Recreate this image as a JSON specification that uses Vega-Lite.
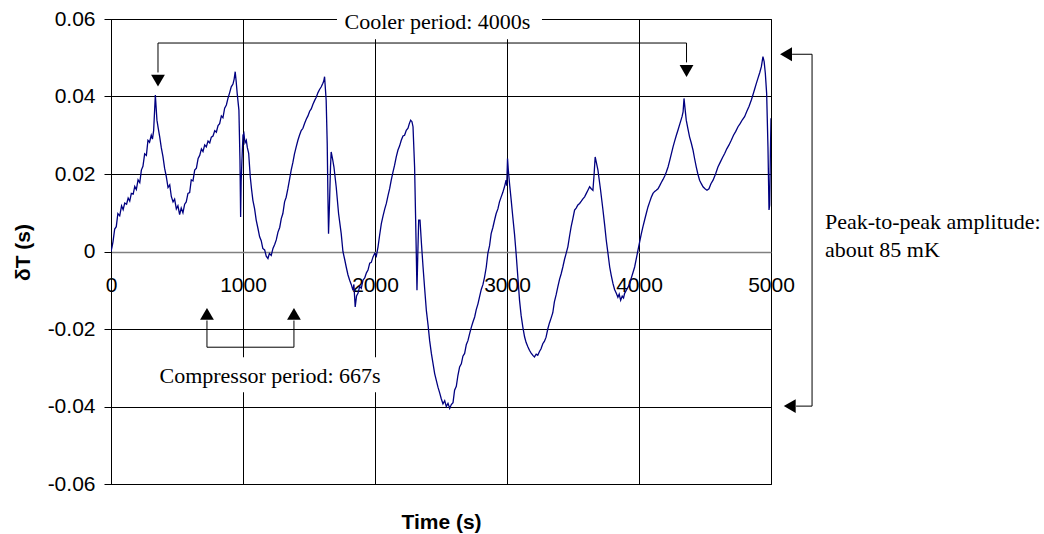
{
  "$schema": "https://vega.github.io/schema/vega-lite/v6.json",
  "width": 660,
  "height": 465,
  "autosize": "none",
  "padding": {"left": 111, "top": 19, "right": 273, "bottom": 50},
  "background": "white",
  "config": {
    "view": {"stroke": "black", "strokeWidth": 1},
    "axis": {"labelFont": "Liberation Sans", "titleFont": "Liberation Sans", "labelColor": "black", "titleColor": "black"}
  },
  "datasets": {
    "curve": [
      {"t":0,"v":0.0},{"t":8,"v":0.0012},{"t":15,"v":0.0025},{"t":28,"v":0.0058},{"t":40,"v":0.0064},{"t":52,"v":0.0098},{"t":66,"v":0.0092},{"t":80,"v":0.0118},{"t":92,"v":0.0108},{"t":104,"v":0.0125},{"t":118,"v":0.0122},{"t":130,"v":0.0138},{"t":142,"v":0.013},{"t":154,"v":0.015},{"t":168,"v":0.0148},{"t":180,"v":0.0168},{"t":192,"v":0.016},{"t":205,"v":0.0185},{"t":218,"v":0.0178},{"t":230,"v":0.021},{"t":242,"v":0.022},{"t":255,"v":0.0252},{"t":268,"v":0.0248},{"t":280,"v":0.0287},{"t":292,"v":0.0282},{"t":305,"v":0.03},{"t":314,"v":0.029},{"t":323,"v":0.0312},{"t":336,"v":0.0404},{"t":348,"v":0.0339},{"t":358,"v":0.0318},{"t":369,"v":0.0296},{"t":381,"v":0.0268},{"t":394,"v":0.0244},{"t":406,"v":0.0215},{"t":419,"v":0.0193},{"t":432,"v":0.0165},{"t":445,"v":0.0172},{"t":457,"v":0.0142},{"t":470,"v":0.0128},{"t":482,"v":0.0135},{"t":495,"v":0.011},{"t":507,"v":0.0118},{"t":520,"v":0.0095},{"t":532,"v":0.0112},{"t":545,"v":0.01},{"t":558,"v":0.0122},{"t":570,"v":0.0128},{"t":583,"v":0.015},{"t":596,"v":0.0152},{"t":608,"v":0.0185},{"t":621,"v":0.0182},{"t":634,"v":0.021},{"t":647,"v":0.0215},{"t":660,"v":0.024},{"t":672,"v":0.0248},{"t":685,"v":0.0265},{"t":697,"v":0.0258},{"t":710,"v":0.0275},{"t":722,"v":0.027},{"t":735,"v":0.0285},{"t":748,"v":0.028},{"t":760,"v":0.0295},{"t":773,"v":0.0298},{"t":786,"v":0.0312},{"t":798,"v":0.0308},{"t":811,"v":0.0325},{"t":823,"v":0.033},{"t":836,"v":0.035},{"t":848,"v":0.0345},{"t":861,"v":0.037},{"t":874,"v":0.0378},{"t":886,"v":0.0395},{"t":899,"v":0.041},{"t":911,"v":0.0425},{"t":924,"v":0.0432},{"t":933,"v":0.0445},{"t":941,"v":0.0464},{"t":948,"v":0.044},{"t":956,"v":0.0408},{"t":969,"v":0.0365},{"t":977,"v":0.0236},{"t":982,"v":0.0089},{"t":986,"v":0.018},{"t":992,"v":0.0236},{"t":1000,"v":0.03},{"t":1007,"v":0.0305},{"t":1015,"v":0.028},{"t":1025,"v":0.0287},{"t":1033,"v":0.0268},{"t":1043,"v":0.0253},{"t":1055,"v":0.0193},{"t":1065,"v":0.016},{"t":1075,"v":0.0132},{"t":1088,"v":0.011},{"t":1100,"v":0.0081},{"t":1113,"v":0.006},{"t":1126,"v":0.0038},{"t":1138,"v":0.0028},{"t":1150,"v":0.0008},{"t":1164,"v":0.0004},{"t":1176,"v":-0.0012},{"t":1189,"v":-0.0018},{"t":1200,"v":-0.0005},{"t":1214,"v":-0.001},{"t":1227,"v":0.0008},{"t":1240,"v":0.0018},{"t":1252,"v":0.003},{"t":1265,"v":0.005},{"t":1278,"v":0.0062},{"t":1290,"v":0.0085},{"t":1302,"v":0.0098},{"t":1315,"v":0.0128},{"t":1327,"v":0.014},{"t":1340,"v":0.0162},{"t":1352,"v":0.0185},{"t":1365,"v":0.021},{"t":1378,"v":0.023},{"t":1390,"v":0.0252},{"t":1403,"v":0.027},{"t":1416,"v":0.0287},{"t":1428,"v":0.03},{"t":1441,"v":0.0312},{"t":1454,"v":0.0318},{"t":1467,"v":0.0331},{"t":1480,"v":0.0342},{"t":1492,"v":0.035},{"t":1505,"v":0.0362},{"t":1517,"v":0.0368},{"t":1530,"v":0.038},{"t":1543,"v":0.039},{"t":1555,"v":0.0398},{"t":1568,"v":0.041},{"t":1580,"v":0.0418},{"t":1593,"v":0.0425},{"t":1605,"v":0.0434},{"t":1612,"v":0.044},{"t":1618,"v":0.0451},{"t":1630,"v":0.0391},{"t":1638,"v":0.0279},{"t":1643,"v":0.015},{"t":1648,"v":0.0046},{"t":1655,"v":0.012},{"t":1663,"v":0.0218},{"t":1668,"v":0.0257},{"t":1678,"v":0.024},{"t":1689,"v":0.0218},{"t":1706,"v":0.0167},{"t":1724,"v":0.0098},{"t":1744,"v":0.0046},{"t":1757,"v":0.0},{"t":1770,"v":-0.002},{"t":1782,"v":-0.004},{"t":1795,"v":-0.006},{"t":1808,"v":-0.0074},{"t":1820,"v":-0.0085},{"t":1833,"v":-0.01},{"t":1840,"v":-0.0085},{"t":1850,"v":-0.0143},{"t":1860,"v":-0.0115},{"t":1871,"v":-0.0108},{"t":1884,"v":-0.009},{"t":1896,"v":-0.0095},{"t":1909,"v":-0.0074},{"t":1922,"v":-0.0068},{"t":1935,"v":-0.0055},{"t":1947,"v":-0.0048},{"t":1960,"v":-0.003},{"t":1972,"v":-0.0028},{"t":1985,"v":-0.0014},{"t":1998,"v":-0.0005},{"t":2010,"v":-0.0012},{"t":2023,"v":0.0012},{"t":2035,"v":0.0042},{"t":2048,"v":0.0072},{"t":2061,"v":0.0092},{"t":2074,"v":0.011},{"t":2086,"v":0.0124},{"t":2099,"v":0.0145},{"t":2111,"v":0.0162},{"t":2123,"v":0.0184},{"t":2136,"v":0.0205},{"t":2148,"v":0.0222},{"t":2161,"v":0.0244},{"t":2174,"v":0.0262},{"t":2186,"v":0.0272},{"t":2199,"v":0.0287},{"t":2212,"v":0.0298},{"t":2224,"v":0.03},{"t":2237,"v":0.0313},{"t":2250,"v":0.0318},{"t":2260,"v":0.033},{"t":2270,"v":0.0339},{"t":2280,"v":0.0335},{"t":2288,"v":0.0322},{"t":2300,"v":0.0218},{"t":2308,"v":0.0081},{"t":2318,"v":-0.01},{"t":2324,"v":-0.001},{"t":2331,"v":0.0081},{"t":2341,"v":0.0081},{"t":2352,"v":0.002},{"t":2364,"v":-0.004},{"t":2376,"v":-0.0095},{"t":2389,"v":-0.0152},{"t":2402,"v":-0.019},{"t":2414,"v":-0.023},{"t":2427,"v":-0.0263},{"t":2440,"v":-0.029},{"t":2452,"v":-0.0315},{"t":2464,"v":-0.0332},{"t":2477,"v":-0.035},{"t":2490,"v":-0.0365},{"t":2502,"v":-0.038},{"t":2515,"v":-0.0393},{"t":2528,"v":-0.0385},{"t":2540,"v":-0.04},{"t":2553,"v":-0.0392},{"t":2566,"v":-0.0405},{"t":2578,"v":-0.0395},{"t":2591,"v":-0.039},{"t":2603,"v":-0.0358},{"t":2616,"v":-0.0348},{"t":2628,"v":-0.032},{"t":2641,"v":-0.0298},{"t":2654,"v":-0.029},{"t":2666,"v":-0.027},{"t":2679,"v":-0.0263},{"t":2692,"v":-0.024},{"t":2704,"v":-0.023},{"t":2717,"v":-0.0212},{"t":2730,"v":-0.0195},{"t":2742,"v":-0.0182},{"t":2755,"v":-0.0169},{"t":2767,"v":-0.015},{"t":2780,"v":-0.0135},{"t":2792,"v":-0.0117},{"t":2805,"v":-0.0098},{"t":2818,"v":-0.0085},{"t":2830,"v":-0.0066},{"t":2843,"v":-0.004},{"t":2855,"v":-0.0005},{"t":2868,"v":0.0015},{"t":2880,"v":0.0046},{"t":2893,"v":0.0062},{"t":2905,"v":0.008},{"t":2918,"v":0.0098},{"t":2931,"v":0.011},{"t":2943,"v":0.0128},{"t":2956,"v":0.0141},{"t":2968,"v":0.0152},{"t":2981,"v":0.0167},{"t":2993,"v":0.0184},{"t":2998,"v":0.017},{"t":3004,"v":0.024},{"t":3010,"v":0.021},{"t":3019,"v":0.0176},{"t":3031,"v":0.0135},{"t":3044,"v":0.0089},{"t":3057,"v":0.0045},{"t":3069,"v":-0.0005},{"t":3082,"v":-0.0065},{"t":3095,"v":-0.0126},{"t":3107,"v":-0.0165},{"t":3120,"v":-0.0195},{"t":3133,"v":-0.022},{"t":3145,"v":-0.0235},{"t":3158,"v":-0.0246},{"t":3170,"v":-0.0255},{"t":3183,"v":-0.0262},{"t":3196,"v":-0.0268},{"t":3208,"v":-0.0272},{"t":3221,"v":-0.0265},{"t":3233,"v":-0.0268},{"t":3246,"v":-0.0258},{"t":3258,"v":-0.0251},{"t":3271,"v":-0.0238},{"t":3283,"v":-0.0232},{"t":3296,"v":-0.0221},{"t":3309,"v":-0.02},{"t":3321,"v":-0.0185},{"t":3334,"v":-0.0172},{"t":3347,"v":-0.0158},{"t":3359,"v":-0.013},{"t":3372,"v":-0.0112},{"t":3385,"v":-0.0091},{"t":3398,"v":-0.0072},{"t":3410,"v":-0.0058},{"t":3423,"v":-0.004},{"t":3436,"v":-0.002},{"t":3448,"v":-0.0005},{"t":3461,"v":0.0012},{"t":3474,"v":0.004},{"t":3486,"v":0.0064},{"t":3499,"v":0.0085},{"t":3512,"v":0.0107},{"t":3524,"v":0.0112},{"t":3537,"v":0.012},{"t":3550,"v":0.0124},{"t":3563,"v":0.013},{"t":3575,"v":0.0136},{"t":3588,"v":0.0141},{"t":3601,"v":0.015},{"t":3613,"v":0.0158},{"t":3626,"v":0.0167},{"t":3638,"v":0.0162},{"t":3651,"v":0.0158},{"t":3660,"v":0.02},{"t":3668,"v":0.0244},{"t":3678,"v":0.0228},{"t":3689,"v":0.021},{"t":3709,"v":0.0158},{"t":3727,"v":0.0107},{"t":3740,"v":0.0068},{"t":3752,"v":0.0029},{"t":3765,"v":-0.0005},{"t":3778,"v":-0.004},{"t":3790,"v":-0.0062},{"t":3803,"v":-0.0083},{"t":3815,"v":-0.0098},{"t":3828,"v":-0.0108},{"t":3840,"v":-0.0118},{"t":3850,"v":-0.011},{"t":3861,"v":-0.0126},{"t":3873,"v":-0.0115},{"t":3883,"v":-0.012},{"t":3891,"v":-0.0108},{"t":3904,"v":-0.01},{"t":3917,"v":-0.0092},{"t":3929,"v":-0.0083},{"t":3942,"v":-0.0068},{"t":3954,"v":-0.0055},{"t":3967,"v":-0.004},{"t":3980,"v":-0.0018},{"t":3992,"v":0.0003},{"t":4005,"v":0.0025},{"t":4017,"v":0.0045},{"t":4030,"v":0.0064},{"t":4043,"v":0.0082},{"t":4055,"v":0.0098},{"t":4068,"v":0.0115},{"t":4081,"v":0.0128},{"t":4093,"v":0.014},{"t":4106,"v":0.015},{"t":4119,"v":0.0155},{"t":4131,"v":0.0158},{"t":4144,"v":0.0162},{"t":4157,"v":0.017},{"t":4169,"v":0.0178},{"t":4182,"v":0.0186},{"t":4195,"v":0.0195},{"t":4207,"v":0.0205},{"t":4220,"v":0.0218},{"t":4233,"v":0.0235},{"t":4245,"v":0.0252},{"t":4258,"v":0.027},{"t":4270,"v":0.0285},{"t":4283,"v":0.03},{"t":4295,"v":0.0313},{"t":4310,"v":0.033},{"t":4326,"v":0.0348},{"t":4334,"v":0.036},{"t":4341,"v":0.0395},{"t":4350,"v":0.0365},{"t":4358,"v":0.0339},{"t":4370,"v":0.0318},{"t":4383,"v":0.0296},{"t":4396,"v":0.028},{"t":4409,"v":0.0262},{"t":4421,"v":0.024},{"t":4434,"v":0.0218},{"t":4446,"v":0.02},{"t":4459,"v":0.0184},{"t":4472,"v":0.0175},{"t":4485,"v":0.0167},{"t":4500,"v":0.0162},{"t":4515,"v":0.0158},{"t":4530,"v":0.0162},{"t":4545,"v":0.0175},{"t":4561,"v":0.0184},{"t":4580,"v":0.02},{"t":4598,"v":0.0218},{"t":4615,"v":0.023},{"t":4632,"v":0.0242},{"t":4649,"v":0.0253},{"t":4665,"v":0.0265},{"t":4682,"v":0.0275},{"t":4699,"v":0.0287},{"t":4716,"v":0.03},{"t":4733,"v":0.031},{"t":4750,"v":0.0322},{"t":4766,"v":0.033},{"t":4783,"v":0.034},{"t":4800,"v":0.0348},{"t":4817,"v":0.0362},{"t":4834,"v":0.0375},{"t":4851,"v":0.0391},{"t":4864,"v":0.0405},{"t":4877,"v":0.042},{"t":4889,"v":0.0434},{"t":4902,"v":0.0448},{"t":4915,"v":0.0462},{"t":4927,"v":0.0477},{"t":4933,"v":0.049},{"t":4939,"v":0.0503},{"t":4948,"v":0.049},{"t":4957,"v":0.046},{"t":4967,"v":0.0408},{"t":4977,"v":0.027},{"t":4985,"v":0.0107},{"t":4990,"v":0.012},{"t":4995,"v":0.0244},{"t":5000,"v":0.0344}
    ],
    "boxes": [
      {"x1": 1712, "x2": 3265, "y1": 0.0548, "y2": 0.066},
      {"x1": 295, "x2": 2114, "y1": -0.0273, "y2": -0.0363}
    ],
    "rules": [
      {"x1": 356, "y1": 0.0538, "x2": 4360, "y2": 0.0538},
      {"x1": 356, "y1": 0.0538, "x2": 356, "y2": 0.0462},
      {"x1": 4360, "y1": 0.0538, "x2": 4360, "y2": 0.0488},
      {"x1": 727, "y1": -0.0178, "x2": 727, "y2": -0.0247},
      {"x1": 1386, "y1": -0.0178, "x2": 1386, "y2": -0.0247},
      {"x1": 727, "y1": -0.0247, "x2": 1386, "y2": -0.0247},
      {"x1": 5160, "y1": 0.0509, "x2": 5311, "y2": 0.0509},
      {"x1": 5311, "y1": 0.0509, "x2": 5311, "y2": -0.0399},
      {"x1": 5311, "y1": -0.0399, "x2": 5190, "y2": -0.0399}
    ],
    "arrows": [
      {"x": 356, "y": 0.0441, "shape": "triangle-down"},
      {"x": 4360, "y": 0.0466, "shape": "triangle-down"},
      {"x": 727, "y": -0.0161, "shape": "triangle-up"},
      {"x": 1386, "y": -0.0161, "shape": "triangle-up"},
      {"x": 5114, "y": 0.0509, "shape": "triangle-left"},
      {"x": 5142, "y": -0.0399, "shape": "triangle-left"}
    ],
    "centerText": [
      {"x": 2473, "y": 0.0592, "label": "Cooler period: 4000s"},
      {"x": 1205, "y": -0.0322, "label": "Compressor period: 667s"}
    ],
    "leftText": [
      {"x": 5409, "y": 0.0076, "label": "Peak-to-peak amplitude:"},
      {"x": 5409, "y": 0.0003, "label": "about 85 mK"}
    ]
  },
  "layer": [
    {
      "data": {"name": "curve"},
      "mark": {"type": "line", "color": "#000080", "strokeWidth": 1.3, "clip": true},
      "encoding": {
        "x": {
          "field": "t", "type": "quantitative",
          "scale": {"domain": [0, 5000], "nice": false, "zero": false},
          "axis": {
            "values": [0, 1000, 2000, 3000, 4000, 5000],
            "labelExpr": "'' + datum.value",
            "orient": "bottom", "offset": -232,
            "domain": true, "domainColor": "#808080", "domainWidth": 1.5,
            "ticks": false, "labelPadding": 22,
            "labelFontSize": 21, "labelFlush": false, "labelOverlap": false,
            "grid": true, "gridColor": "black", "gridOpacity": 1, "gridWidth": 1,
            "title": "Time (s)", "titleFontSize": 21, "titleFontWeight": "bold",
            "titleY": 270, "titleX": 330, "titleBaseline": "middle", "titleAlign": "center"
          }
        },
        "y": {
          "field": "v", "type": "quantitative",
          "scale": {"domain": [-0.06, 0.06], "nice": false, "zero": false},
          "axis": {
            "values": [-0.06, -0.04, -0.02, 0, 0.02, 0.04, 0.06],
            "labelExpr": "'' + datum.value",
            "domain": true, "domainColor": "black",
            "ticks": true, "tickColor": "black", "tickSize": 7, "labelPadding": 9,
            "labelFontSize": 21, "labelFlush": false, "labelOverlap": false,
            "grid": true, "gridColor": "black", "gridOpacity": 1, "gridWidth": 1,
            "title": "δT (s)", "titleFontSize": 21, "titleFontWeight": "bold",
            "titleX": -88, "titleY": 233, "titleAngle": 270, "titleBaseline": "middle", "titleAlign": "center"
          }
        },
        "order": {"field": "t", "type": "quantitative"}
      }
    },
    {
      "data": {"name": "boxes"},
      "mark": {"type": "rect", "fill": "white", "stroke": null},
      "encoding": {
        "x": {"field": "x1", "type": "quantitative"},
        "x2": {"field": "x2"},
        "y": {"field": "y1", "type": "quantitative"},
        "y2": {"field": "y2"}
      }
    },
    {
      "data": {"name": "rules"},
      "mark": {"type": "rule", "color": "black", "strokeWidth": 1},
      "encoding": {
        "x": {"field": "x1", "type": "quantitative"},
        "x2": {"field": "x2"},
        "y": {"field": "y1", "type": "quantitative"},
        "y2": {"field": "y2"}
      }
    },
    {
      "data": {"name": "arrows"},
      "mark": {"type": "point", "filled": true, "color": "black", "opacity": 1, "size": 190},
      "encoding": {
        "x": {"field": "x", "type": "quantitative"},
        "y": {"field": "y", "type": "quantitative"},
        "shape": {"field": "shape", "type": "nominal", "scale": null, "legend": null}
      }
    },
    {
      "data": {"name": "centerText"},
      "mark": {"type": "text", "font": "Liberation Serif", "fontSize": 22, "color": "black", "align": "center", "baseline": "middle"},
      "encoding": {
        "x": {"field": "x", "type": "quantitative"},
        "y": {"field": "y", "type": "quantitative"},
        "text": {"field": "label"}
      }
    },
    {
      "data": {"name": "leftText"},
      "mark": {"type": "text", "font": "Liberation Serif", "fontSize": 22, "color": "black", "align": "left", "baseline": "middle"},
      "encoding": {
        "x": {"field": "x", "type": "quantitative"},
        "y": {"field": "y", "type": "quantitative"},
        "text": {"field": "label"}
      }
    }
  ]
}
